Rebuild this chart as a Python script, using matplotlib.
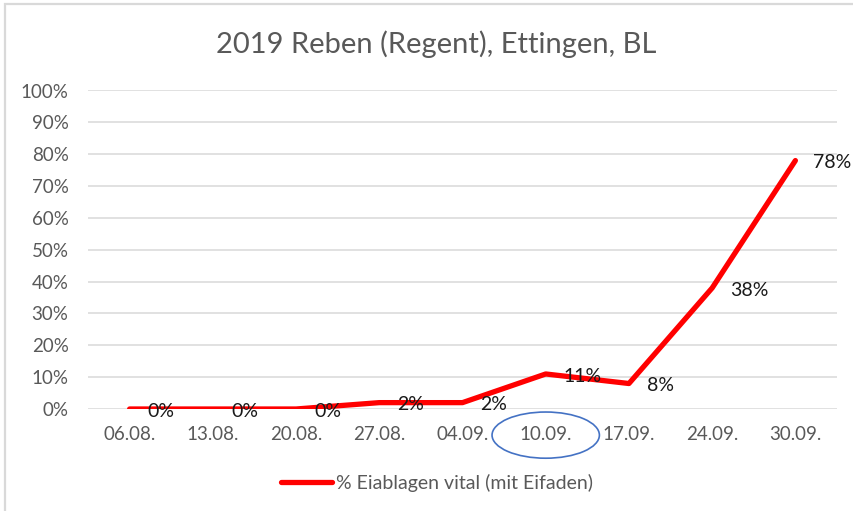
import numpy as np
import matplotlib
matplotlib.use("Agg")
import matplotlib.pyplot as plt
from matplotlib.patches import Ellipse, Rectangle
from matplotlib.transforms import blended_transform_factory

# Daten
dates = ["06.08.", "13.08.", "20.08.", "27.08.", "04.09.", "10.09.", "17.09.", "24.09.", "30.09."]
vital = [0, 0, 0, 2, 2, 11, 8, 38, 78]
series_name = "% Eiablagen vital (mit Eifaden)"
title = "2019 Reben (Regent), Ettingen, BL"

GREY = "#595959"; GRID = "#d9d9d9"; RED = "#ff0000"; BLUE = "#4472c4"
plt.rcParams["font.family"] = ["Lato", "DejaVu Sans"]

W, H = 854, 511
fig = plt.figure(figsize=(W / 100, H / 100), dpi=100)
fig.patch.set_facecolor("white")
# Rahmen (Diagrammbereich)
fig.add_artist(Rectangle((5 / W, -0.1), 1.2, (H - 4) / H + 0.1, transform=fig.transFigure,
                         fill=False, edgecolor=GRID, linewidth=1.6))

ax = fig.add_axes([88 / W, 102 / H, (837 - 88) / W, (409 - 90.5) / H])
x = np.arange(len(dates))
ax.plot(x, vital, color=RED, linewidth=3.8, solid_joinstyle="round", solid_capstyle="round",
        label=series_name, zorder=3)
for xi, v in zip(x, vital):
    ax.annotate(f"{v}%", (xi, v), xytext=(13, -1.5), textcoords="offset points",
                ha="left", va="center", fontsize=14, color="#1a1a1a", zorder=4)

ax.set_xlim(-0.5, len(dates) - 0.5)
ax.set_ylim(0, 100)
ax.set_yticks(np.arange(0, 101, 10))
ax.set_yticklabels([f"{t}%" for t in range(0, 101, 10)])
ax.set_xticks(x)
ax.set_xticklabels(dates)
ax.tick_params(axis="both", length=0, labelsize=13.5, labelcolor=GREY)
ax.tick_params(axis="x", pad=12)
ax.tick_params(axis="y", pad=14)
ax.grid(axis="y", color=GRID, linewidth=1.1)
ax.set_axisbelow(True)
for s in ax.spines.values():
    s.set_visible(False)

# Markierung 10.09.
tr = blended_transform_factory(ax.transData, ax.transAxes)
ax.add_patch(Ellipse((5, -0.082), 1.29, 0.145, transform=tr, fill=False,
                     edgecolor=BLUE, linewidth=1.2, clip_on=False))

fig.text(436 / W, 1 - 44 / H, title, ha="center", va="center", fontsize=21, color=GREY)
leg = fig.legend(loc="center", bbox_to_anchor=(437 / W, 1 - 483 / H), frameon=False,
                 fontsize=14, handlelength=2.6, handletextpad=0.2)
for t in leg.get_texts():
    t.set_color(GREY)

fig.savefig("out.png", dpi=100, facecolor="white")
